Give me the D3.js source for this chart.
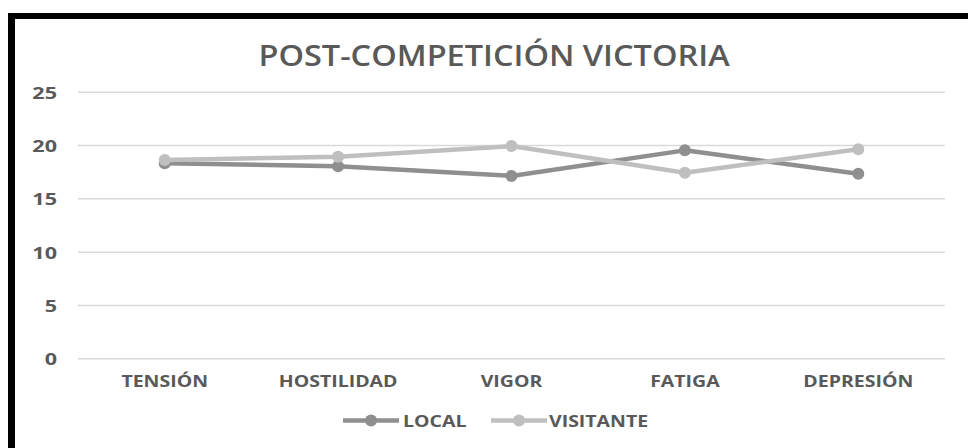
<!DOCTYPE html>
<html><head><meta charset="utf-8">
<script src="https://cdn.jsdelivr.net/npm/d3@7"></script>
<style>html,body{margin:0;padding:0;background:#fff;}svg{display:block;}</style>
</head><body>
<svg id="c" width="968" height="448"></svg>
<script>
const categories = ["TENSIÓN","HOSTILIDAD","VIGOR","FATIGA","DEPRESIÓN"];
const local = [18.3, 18.0, 17.1, 19.5, 17.3];
const visitante = [18.6, 18.9, 19.9, 17.4, 19.6];
const yTicks = [0,5,10,15,20,25];
const seriesNames = ["LOCAL","VISITANTE"];
const seriesColors = ["#8f8f8f","#bfbfbf"];
const title = "POST-COMPETICIÓN VICTORIA";

const svg = d3.select("#c");
const txtColor = "#595959";
const font = "'Open Sans', sans-serif";

// border
svg.append("rect").attr("x",8).attr("y",13).attr("width",968).attr("height",6).attr("fill","#000");
svg.append("rect").attr("x",8).attr("y",13).attr("width",7).attr("height",448).attr("fill","#000");

const x = d3.scaleBand().domain(categories).range([78,945]);
const y = d3.scaleLinear().domain([0,25]).range([358.3,91.7]);

function stext(px,py,str,size,weight,anchor,sx){
  const g = svg.append("g").attr("transform",`translate(${px},${py}) scale(${sx},1)`);
  return g.append("text").text(str).attr("font-family",font).attr("font-size",size)
   .attr("font-weight",weight).attr("fill",txtColor).attr("text-anchor",anchor)
   .attr("dominant-baseline","central");
}

// grid
const yAxis = d3.axisLeft(y).tickValues(yTicks).tickSize(-(945-78)).tickPadding(0);
const ga = svg.append("g").attr("transform","translate(78,0)").call(yAxis);
ga.select(".domain").remove();
ga.selectAll(".tick line").attr("stroke","#d9d9d9").attr("stroke-width",1.5);
ga.selectAll(".tick text").remove();
yTicks.forEach(t=>stext(57,y(t)+1,String(t),16,"bold","end",1.35));

// x labels
categories.forEach(c=>stext(x(c)+x.bandwidth()/2,381,c,16,"bold","middle",1.22));

// title
stext(494,55,title,28,"600","middle",1.16);

// lines
const data = [local, visitante];
data.forEach((vals,i)=>{
  const line = d3.line().x((d,j)=>x(categories[j])+x.bandwidth()/2).y(d=>y(d));
  svg.append("path").datum(vals).attr("d",line).attr("fill","none")
    .attr("stroke",seriesColors[i]).attr("stroke-width",4.5).attr("stroke-linejoin","round");
  svg.selectAll(null).data(vals).enter().append("circle")
    .attr("cx",(d,j)=>x(categories[j])+x.bandwidth()/2).attr("cy",d=>y(d))
    .attr("r",6).attr("fill",seriesColors[i]);
});

// legend
const leg = [{x0:343,x1:399,tx:403},{x0:491,x1:547,tx:549}];
seriesNames.forEach((n,i)=>{
  const L = leg[i];
  svg.append("line").attr("x1",L.x0).attr("x2",L.x1).attr("y1",420.5).attr("y2",420.5)
    .attr("stroke",seriesColors[i]).attr("stroke-width",4.5);
  svg.append("circle").attr("cx",(L.x0+L.x1)/2).attr("cy",420.5).attr("r",6).attr("fill",seriesColors[i]);
  stext(L.tx,421,n,16,"bold","start",1.22);
});
</script>
</body></html>
